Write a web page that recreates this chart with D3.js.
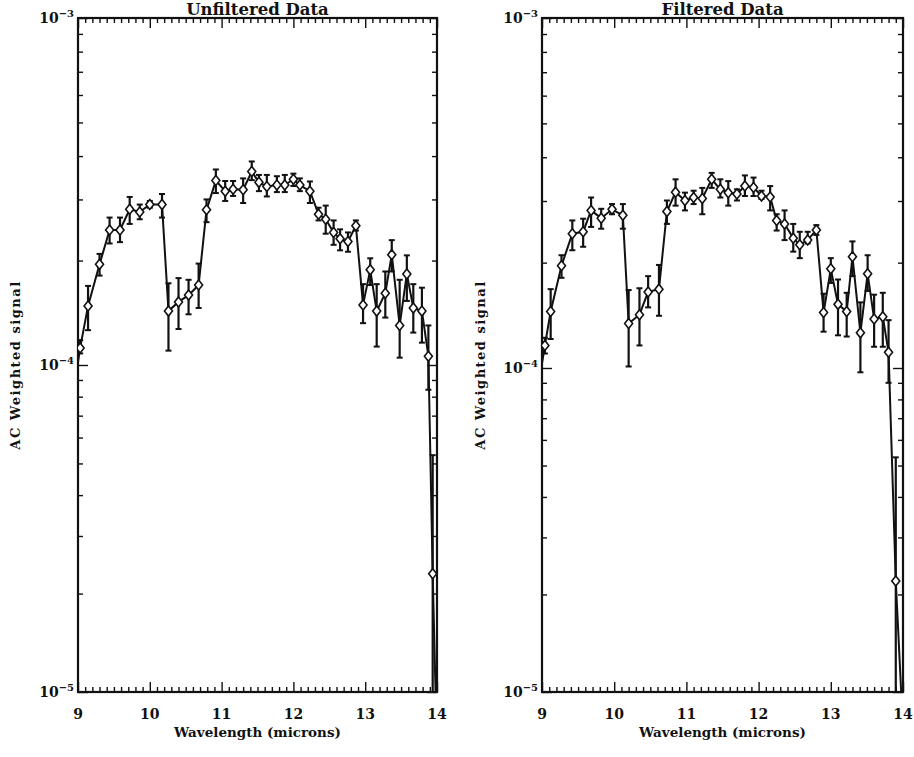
<!DOCTYPE html>
<html><head><meta charset="utf-8">
<script src="https://cdn.jsdelivr.net/npm/d3@7"></script>
<style>
body{margin:0;background:#fff;}
svg{display:block;}
text{font-family:"DejaVu Serif",serif;font-weight:bold;fill:#111;}
</style></head>
<body>
<svg id="c" width="914" height="757"></svg>
<script>
// ---------- data ----------
const panelTitles = ["Unfiltered Data", "Filtered Data"];
const xTickLabels = ["9", "10", "11", "12", "13", "14"];
const yTickBases = ["10", "10", "10"];
const yTickExps = ["\u22125", "\u22124", "\u22123"];
const xLabel = "Wavelength (microns)";
const yLabel = "AC Weighted signal";

// Unfiltered
const wlU = [9.03,9.14,9.30,9.44,9.585,9.72,9.86,10.0,10.17,10.26,10.40,10.54,10.68,10.79,10.92,11.05,11.16,11.30,11.42,11.52,11.63,11.77,11.88,12.0,12.09,12.23,12.35,12.45,12.56,12.65,12.76,12.87,12.97,13.07,13.16,13.28,13.37,13.48,13.58,13.67,13.79,13.88,13.94];
const sigU = [1.12e-4,1.48e-4,1.95e-4,2.45e-4,2.45e-4,2.81e-4,2.76e-4,2.90e-4,2.90e-4,1.43e-4,1.52e-4,1.59e-4,1.70e-4,2.80e-4,3.40e-4,3.17e-4,3.21e-4,3.20e-4,3.61e-4,3.36e-4,3.27e-4,3.30e-4,3.30e-4,3.43e-4,3.30e-4,3.17e-4,2.72e-4,2.63e-4,2.41e-4,2.31e-4,2.27e-4,2.52e-4,1.49e-4,1.88e-4,1.43e-4,1.61e-4,2.08e-4,1.30e-4,1.83e-4,1.46e-4,1.43e-4,1.06e-4,2.3e-5];
const hiU = [1.18e-4,1.69e-4,2.09e-4,2.66e-4,2.66e-4,3.05e-4,2.90e-4,2.97e-4,3.11e-4,1.72e-4,1.78e-4,1.76e-4,1.96e-4,3.00e-4,3.66e-4,3.39e-4,3.39e-4,3.45e-4,3.86e-4,3.53e-4,3.53e-4,3.50e-4,3.53e-4,3.56e-4,3.45e-4,3.38e-4,2.84e-4,2.88e-4,2.61e-4,2.46e-4,2.41e-4,2.61e-4,1.71e-4,2.03e-4,1.71e-4,1.86e-4,2.29e-4,1.76e-4,2.07e-4,1.71e-4,1.67e-4,1.30e-4,5.3e-5];
const loU = [1.08e-4,1.26e-4,1.81e-4,2.24e-4,2.26e-4,2.55e-4,2.63e-4,2.84e-4,2.66e-4,1.10e-4,1.27e-4,1.40e-4,1.46e-4,2.58e-4,3.13e-4,2.97e-4,3.07e-4,2.93e-4,3.41e-4,3.17e-4,3.06e-4,3.15e-4,3.15e-4,3.28e-4,3.17e-4,2.93e-4,2.61e-4,2.39e-4,2.22e-4,2.14e-4,2.12e-4,2.44e-4,1.32e-4,1.70e-4,1.13e-4,1.37e-4,1.86e-4,1.05e-4,1.53e-4,1.24e-4,1.16e-4,8.4e-5,1.0e-5];
const lineStartU = [9.0, 1.02e-4];
const lineEndU = [13.985, 9e-6];

// Filtered
const wlF = [9.04,9.12,9.27,9.42,9.57,9.68,9.82,9.97,10.12,10.20,10.35,10.47,10.62,10.73,10.85,10.98,11.10,11.22,11.35,11.47,11.58,11.70,11.81,11.93,12.04,12.16,12.25,12.36,12.48,12.57,12.68,12.80,12.90,13.00,13.10,13.22,13.30,13.41,13.51,13.60,13.72,13.80,13.90];
const sigF = [1.16e-4,1.45e-4,1.96e-4,2.42e-4,2.45e-4,2.82e-4,2.68e-4,2.84e-4,2.73e-4,1.34e-4,1.42e-4,1.65e-4,1.68e-4,2.80e-4,3.18e-4,3.01e-4,3.07e-4,3.05e-4,3.46e-4,3.24e-4,3.17e-4,3.14e-4,3.31e-4,3.28e-4,3.10e-4,3.08e-4,2.64e-4,2.58e-4,2.35e-4,2.25e-4,2.32e-4,2.48e-4,1.44e-4,1.92e-4,1.52e-4,1.45e-4,2.08e-4,1.26e-4,1.86e-4,1.38e-4,1.40e-4,1.11e-4,2.2e-5];
const hiF = [1.22e-4,1.68e-4,2.10e-4,2.64e-4,2.67e-4,3.07e-4,2.85e-4,2.94e-4,2.94e-4,1.67e-4,1.69e-4,1.83e-4,1.97e-4,3.01e-4,3.46e-4,3.17e-4,3.21e-4,3.27e-4,3.61e-4,3.46e-4,3.42e-4,3.24e-4,3.55e-4,3.50e-4,3.21e-4,3.31e-4,2.75e-4,2.82e-4,2.58e-4,2.45e-4,2.45e-4,2.56e-4,1.63e-4,2.06e-4,1.79e-4,1.64e-4,2.30e-4,1.54e-4,2.10e-4,1.62e-4,1.64e-4,1.37e-4,5.3e-5];
const loF = [1.10e-4,1.21e-4,1.81e-4,2.17e-4,2.22e-4,2.53e-4,2.50e-4,2.75e-4,2.50e-4,1.01e-4,1.16e-4,1.49e-4,1.41e-4,2.58e-4,2.91e-4,2.82e-4,2.94e-4,2.75e-4,3.27e-4,3.07e-4,2.91e-4,3.01e-4,3.10e-4,3.10e-4,3.04e-4,2.82e-4,2.47e-4,2.32e-4,2.15e-4,2.06e-4,2.27e-4,2.40e-4,1.27e-4,1.75e-4,1.24e-4,1.23e-4,1.83e-4,9.7e-5,1.66e-4,1.15e-4,1.15e-4,9.0e-5,1.0e-5];
const lineStartF = [9.0, 1.03e-4];
const lineEndF = [13.985, 9e-6];

// ---------- drawing ----------
const svg = d3.select("#c");

const panels = [
  {title: panelTitles[0], wl: wlU, sig: sigU, hi: hiU, lo: loU, ls: lineStartU, le: lineEndU,
   left: 78, right: 437, top: 18, mid: 365, bottom: 692, ylab: 20},
  {title: panelTitles[1], wl: wlF, sig: sigF, hi: hiF, lo: loF, ls: lineStartF, le: lineEndF,
   left: 542, right: 903, top: 18, mid: 368, bottom: 692, ylab: 485}
];

panels.forEach((p, i) => {
  const g = svg.append("g");
  const x = d3.scaleLinear().domain([9, 14]).range([p.left, p.right]);
  const y = d3.scaleLog().domain([1e-5, 1e-4, 1e-3]).range([p.bottom, p.mid, p.top]);

  const clipId = "clip" + i;
  g.append("clipPath").attr("id", clipId).append("rect")
    .attr("x", p.left).attr("y", p.top).attr("width", p.right - p.left).attr("height", p.bottom - p.top);

  // ticks
  const xMinor = d3.range(9, 14.001, 0.1).map(v => Math.round(v * 10) / 10).filter(v => Math.abs(v - Math.round(v)) > 1e-6);
  const xMajor = d3.range(9, 15, 1);
  const yMinor = [];
  [1e-5, 1e-4].forEach(d => { for (let k = 2; k <= 9; k++) yMinor.push(k * d); });
  const yMajor = [1e-5, 1e-4, 1e-3];

  const axG = g.append("g").attr("class", "ticks");
  const styleAxis = sel => { sel.select(".domain").remove(); sel.selectAll("line").attr("stroke", "#111").attr("stroke-width", 1.4); sel.selectAll("text").remove(); };

  axG.append("g").attr("transform", `translate(0,${p.bottom})`).call(d3.axisBottom(x).tickValues(xMinor).tickSize(-5).tickFormat("")).call(styleAxis);
  axG.append("g").attr("transform", `translate(0,${p.bottom})`).call(d3.axisBottom(x).tickValues(xMajor).tickSize(-10).tickFormat("")).call(styleAxis);
  axG.append("g").attr("transform", `translate(0,${p.top})`).call(d3.axisTop(x).tickValues(xMinor).tickSize(-5).tickFormat("")).call(styleAxis);
  axG.append("g").attr("transform", `translate(0,${p.top})`).call(d3.axisTop(x).tickValues(xMajor).tickSize(-10).tickFormat("")).call(styleAxis);
  axG.append("g").attr("transform", `translate(${p.left},0)`).call(d3.axisLeft(y).tickValues(yMinor).tickSize(-5).tickFormat("")).call(styleAxis);
  axG.append("g").attr("transform", `translate(${p.left},0)`).call(d3.axisLeft(y).tickValues(yMajor).tickSize(-10).tickFormat("")).call(styleAxis);
  axG.append("g").attr("transform", `translate(${p.right},0)`).call(d3.axisRight(y).tickValues(yMinor).tickSize(-5).tickFormat("")).call(styleAxis);
  axG.append("g").attr("transform", `translate(${p.right},0)`).call(d3.axisRight(y).tickValues(yMajor).tickSize(-10).tickFormat("")).call(styleAxis);

  // frame
  g.append("rect").attr("x", p.left).attr("y", p.top).attr("width", p.right - p.left).attr("height", p.bottom - p.top)
    .attr("fill", "none").attr("stroke", "#111").attr("stroke-width", 2.2);

  // tick labels
  g.selectAll(".xl").data(xMajor).join("text").attr("class", "xl")
    .attr("x", d => x(d)).attr("y", p.bottom + 27).attr("text-anchor", "middle")
    .style("font-size", "14px").text((d, j) => xTickLabels[j]);
  const yl = g.selectAll(".yl").data(yMajor).join("text").attr("class", "yl")
    .attr("x", p.left - 4).attr("y", d => y(d) + 5).attr("text-anchor", "end")
    .style("font-size", "14px");
  yl.append("tspan").text((d, j) => yTickBases[j]);
  yl.append("tspan").attr("dy", -6).style("font-size", "10px").text((d, j) => yTickExps[j]);

  // titles
  g.append("text").attr("x", (p.left + p.right) / 2).attr("y", p.top - 3).attr("text-anchor", "middle")
    .style("font-size", "16.5px").text(p.title);
  g.append("text").attr("x", (p.left + p.right) / 2).attr("y", p.bottom + 45).attr("text-anchor", "middle")
    .style("font-size", "13.5px").text(xLabel);
  g.append("text").attr("transform", `translate(${p.ylab},${(p.top + p.bottom) / 2 + 10}) rotate(-90)`)
    .attr("text-anchor", "middle").style("font-size", "13px").attr("letter-spacing", 1.5).text(yLabel);

  // data
  const dg = g.append("g").attr("clip-path", `url(#${clipId})`);
  const pts = [p.ls].concat(p.wl.map((w, j) => [w, p.sig[j]])).concat([p.le]);
  dg.append("path").datum(pts)
    .attr("d", d3.line().x(d => x(d[0])).y(d => y(d[1])))
    .attr("fill", "none").attr("stroke", "#111").attr("stroke-width", 2).attr("stroke-linejoin", "miter");

  // error bars
  const eb = dg.selectAll(".eb").data(p.wl.map((w, j) => ({w, hi: p.hi[j], lo: p.lo[j]}))).join("g").attr("class", "eb");
  eb.append("line").attr("x1", d => x(d.w)).attr("x2", d => x(d.w)).attr("y1", d => y(d.hi)).attr("y2", d => y(d.lo))
    .attr("stroke", "#111").attr("stroke-width", 2.2);
  eb.append("line").attr("x1", d => x(d.w) - 3).attr("x2", d => x(d.w) + 3).attr("y1", d => y(d.hi)).attr("y2", d => y(d.hi))
    .attr("stroke", "#111").attr("stroke-width", 2);
  eb.append("line").attr("x1", d => x(d.w) - 3).attr("x2", d => x(d.w) + 3).attr("y1", d => y(d.lo)).attr("y2", d => y(d.lo))
    .attr("stroke", "#111").attr("stroke-width", 2);

  // diamonds
  dg.selectAll(".dm").data(p.wl.map((w, j) => [w, p.sig[j]])).join("path").attr("class", "dm")
    .attr("d", d => { const cx = x(d[0]), cy = y(d[1]); return `M${cx},${cy - 5}L${cx + 4},${cy}L${cx},${cy + 5}L${cx - 4},${cy}Z`; })
    .attr("fill", "#fff").attr("stroke", "#111").attr("stroke-width", 1.6);
});
</script>
</body></html>
